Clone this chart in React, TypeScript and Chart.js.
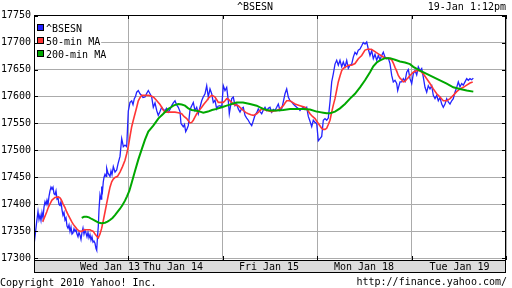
import { useEffect, useRef } from "react";
import { Chart, registerables } from "chart.js";

Chart.register(...registerables);

// ---- text ----
const TITLE = "^BSESN";
const STAMP = "19-Jan 1:12pm";
const COPYRIGHT = "Copyright 2010 Yahoo! Inc.";
const SOURCE_URL = "http://finance.yahoo.com/";
const SERIES_NAMES = ["^BSESN", "50-min MA", "200-min MA"];
const SERIES_COLORS = ["#2222ff", "#ff3535", "#00a800"];

// ---- axes ----
const Y_TICKS = [17300, 17350, 17400, 17450, 17500, 17550, 17600, 17650, 17700, 17750];
const Y_MIN = 17297;
const Y_MAX = 17751;
const BARS_PER_DAY = 94.4; // intraday bars per trading session
const DAY_COUNT = 5;
const DAY_LABELS = ["Wed Jan 13", "Thu Jan 14", "Fri Jan 15", "Mon Jan 18", "Tue Jan 19"];
const DAY_LABEL_BARS = [76, 139, 235, 330, 425.5];

// ---- series: [bar index, value] ----
const BSESN: [number, number][] = [
  [0, 17325], [1, 17340], [2.7, 17368], [4, 17387], [5, 17372], [6, 17380], [7, 17370], [8, 17385], [9, 17375],
  [10, 17395], [11, 17405], [12, 17400], [13, 17408], [14, 17400], [15, 17415], [16, 17425], [17, 17432], [18, 17428],
  [19, 17432], [20, 17420], [21, 17418], [22, 17425], [23, 17410], [24, 17412], [25, 17400], [26, 17398], [27, 17405],
  [28, 17390], [29, 17380], [30, 17385], [31, 17371], [32, 17375], [33, 17360], [34, 17356], [35, 17362], [36, 17350],
  [37, 17358], [38, 17345], [39, 17347], [40, 17355], [41, 17350], [42, 17353], [43, 17345], [44, 17340], [45, 17348],
  [46, 17343], [47, 17335], [48, 17348], [49, 17356], [50, 17345], [51, 17352], [52, 17347], [53, 17340], [54, 17348],
  [55, 17338], [56, 17344], [57, 17334], [58, 17340], [59, 17330], [60, 17332], [61, 17328], [62, 17318], [62.7, 17315],
  [63.5, 17340], [64.3, 17359], [65, 17390], [66, 17418], [67, 17410], [67.7, 17433], [68.5, 17425], [69.3, 17442],
  [70, 17450], [71, 17456], [72, 17452], [72.7, 17467], [74, 17458], [76, 17452], [77, 17462], [78, 17455], [79.3, 17470],
  [81, 17460], [82.7, 17464], [84, 17475], [86, 17489], [87.7, 17522], [88.5, 17515], [89.3, 17507], [91, 17510],
  [92.7, 17507], [93.5, 17540], [94.3, 17573], [96, 17589], [97.7, 17592], [99, 17585], [100.3, 17596], [101.5, 17600],
  [102.7, 17608], [104.3, 17611], [106, 17605], [107.7, 17602], [109, 17598], [111, 17599], [112.5, 17605], [114.3, 17611],
  [116, 17605], [117.7, 17599], [119.3, 17580], [121, 17588], [122.7, 17574], [124.3, 17565], [126, 17572], [127.7, 17580],
  [129, 17576], [131, 17574], [132.5, 17578], [134.3, 17571], [136, 17576], [137.7, 17583], [139.3, 17588], [141, 17592],
  [142.5, 17585], [144.3, 17580], [146, 17572], [147, 17550], [149.3, 17544], [150.5, 17548], [151.7, 17535], [153, 17540],
  [154.3, 17546], [156, 17575], [157, 17580], [159.3, 17589], [161, 17574], [162.7, 17580], [164.3, 17568], [166, 17580],
  [167.7, 17592], [169, 17598], [171, 17605], [172.7, 17620], [174.3, 17599], [176, 17614], [177.7, 17605], [179.3, 17589],
  [181, 17593], [182.7, 17577], [184, 17582], [186, 17583], [187.7, 17580], [189.3, 17620], [191, 17611], [192.7, 17617],
  [194.3, 17592], [195.3, 17568], [197.7, 17596], [199.3, 17599], [201, 17583], [202.7, 17586], [204.3, 17577], [206, 17571],
  [207.7, 17578], [209.3, 17580], [211, 17565], [212.7, 17560], [214.3, 17556], [216, 17550], [217.7, 17546], [219.3, 17555],
  [221, 17565], [222.7, 17570], [224.3, 17577], [226, 17572], [227.7, 17568], [229.3, 17575], [231, 17580], [232.7, 17574],
  [234.3, 17578], [236, 17580], [237.7, 17571], [239.3, 17576], [241, 17574], [242.7, 17580], [244.3, 17586], [246, 17574],
  [247.7, 17577], [249.3, 17590], [251, 17605], [252.7, 17614], [254.3, 17599], [256, 17592], [257.7, 17590], [259.3, 17586],
  [261, 17583], [262.7, 17580], [264.3, 17578], [266, 17574], [267.7, 17578], [269.3, 17580], [271, 17576], [272.7, 17580],
  [274.3, 17563], [276, 17554], [277.7, 17544], [279.3, 17556], [281, 17552], [282.7, 17550], [284.3, 17518], [286, 17522],
  [287.7, 17526], [289.3, 17556], [291, 17559], [292.7, 17556], [294.3, 17560], [296, 17590], [297.7, 17627], [299.3, 17642],
  [301, 17660], [302.7, 17667], [304.3, 17658], [306, 17667], [307.7, 17655], [309.3, 17664], [311, 17655], [312.7, 17667],
  [314.3, 17652], [316, 17658], [317.7, 17660], [319.3, 17673], [321, 17682], [322.7, 17678], [324.3, 17686], [326, 17688],
  [327.7, 17694], [329.3, 17700], [331, 17697], [332.7, 17701], [334.3, 17688], [336, 17676], [337.7, 17685], [339.3, 17670],
  [341, 17678], [342.7, 17667], [344.3, 17676], [346, 17668], [347.7, 17676], [349.3, 17682], [351, 17673], [352.7, 17670],
  [354.3, 17671], [356, 17661], [357.7, 17639], [359.3, 17627], [361, 17630], [362.7, 17624], [363.7, 17611], [366, 17627],
  [367.7, 17627], [369.3, 17633], [371, 17628], [372.7, 17645], [374.3, 17650], [376, 17633], [377.7, 17624], [379.3, 17642],
  [381, 17648], [382.7, 17640], [384.3, 17655], [386, 17648], [387.7, 17652], [389.3, 17636], [391, 17617], [392.7, 17608],
  [394.3, 17620], [396, 17614], [397.7, 17620], [399.3, 17602], [401, 17596], [402.7, 17602], [404.3, 17592], [406, 17598],
  [407.7, 17586], [409.3, 17580], [411, 17586], [412.7, 17596], [414.3, 17590], [416, 17586], [417.7, 17592], [419.3, 17596],
  [421, 17608], [422.7, 17617], [424.3, 17627], [426, 17618], [427.7, 17624], [429.3, 17621], [431, 17627], [432.7, 17633],
  [434.3, 17630], [436, 17633], [437.7, 17631], [439.3, 17634],
];

const MA50: [number, number][] = [
  [8.7, 17368], [10.5, 17376], [12.7, 17386], [14, 17393], [16, 17401], [18, 17408], [21, 17413], [24.3, 17414], [26, 17412],
  [27.7, 17407], [29, 17401], [31, 17394], [32.5, 17387], [34.3, 17380], [36, 17374], [37.7, 17368], [39.3, 17363], [41, 17359],
  [42.7, 17355], [44.3, 17352], [46, 17350], [47.7, 17350], [49.3, 17352], [51, 17353], [53.5, 17353], [56, 17353], [58, 17351],
  [59.3, 17350], [61, 17345], [62.7, 17341], [64.3, 17338], [66, 17345], [67.7, 17356], [69.3, 17370], [71, 17386], [72.7, 17402],
  [74.3, 17417], [76, 17432], [77.7, 17442], [79.3, 17447], [81, 17450], [83.5, 17452], [86, 17460], [88.5, 17470], [91, 17482],
  [92.7, 17494], [94.3, 17507], [96, 17526], [97.7, 17544], [99.3, 17556], [101, 17568], [102.7, 17580], [104.3, 17592], [106, 17598],
  [107.7, 17602], [111, 17602], [114.3, 17602], [117, 17601], [119.3, 17599], [122, 17594], [124.3, 17589], [126, 17585],
  [127.7, 17580], [129.3, 17575], [131, 17571], [134.3, 17571], [137.7, 17571], [141, 17571], [144.3, 17570], [147.7, 17568],
  [150, 17563], [152.7, 17559], [154.3, 17555], [156, 17551], [157.7, 17552], [159.3, 17556], [161, 17562], [162.7, 17568],
  [165, 17574], [167.7, 17580], [170, 17586], [172.7, 17592], [175, 17598], [177.7, 17602], [179.3, 17601], [181, 17599],
  [182.7, 17594], [184.3, 17589], [187, 17589], [189.3, 17589], [191, 17592], [192.7, 17596], [194.3, 17595], [196, 17592],
  [197.7, 17589], [199.3, 17586], [202, 17584], [204.3, 17583], [207, 17578], [209.3, 17574], [212, 17570], [214.3, 17568],
  [217, 17566], [219.3, 17565], [222.7, 17568], [225, 17572], [227.7, 17577], [230, 17576], [232.7, 17574], [235, 17573],
  [237.7, 17572], [240, 17573], [242.7, 17574], [246, 17577], [249.3, 17583], [251, 17588], [252.7, 17592], [256, 17592],
  [258.5, 17589], [261, 17586], [266, 17583], [271, 17580], [273.5, 17575], [276, 17568], [278.5, 17563], [281, 17559],
  [284.3, 17550], [287.7, 17541], [289.3, 17539], [291, 17539], [292.7, 17541], [294.3, 17548], [296, 17556], [297.7, 17571],
  [299.3, 17584], [301, 17596], [302.7, 17612], [304.3, 17627], [306, 17638], [307.7, 17648], [309.3, 17652], [311, 17654],
  [314.3, 17658], [317.7, 17658], [321, 17661], [324.3, 17670], [327.7, 17676], [331, 17686], [334.3, 17688], [337.7, 17687],
  [341, 17683], [344.3, 17679], [347.7, 17675], [351, 17671], [354.3, 17671], [357.7, 17668], [359.3, 17662], [361, 17654],
  [362.7, 17647], [364.3, 17639], [366, 17634], [367.7, 17631], [369.3, 17627], [371, 17628], [372.7, 17632], [374.3, 17635],
  [376, 17639], [379.3, 17645], [382.7, 17648], [386, 17648], [389.3, 17642], [392.7, 17633], [396, 17624], [399.3, 17614],
  [402.7, 17605], [406, 17599], [409.3, 17592], [412.7, 17592], [416, 17596], [419.3, 17602], [422.7, 17609], [426, 17614],
  [429.3, 17617], [432.7, 17621], [436, 17625], [438.7, 17627],
];

const MA200: [number, number][] = [
  [47.7, 17375], [50, 17377], [52.7, 17377], [55, 17376], [57.7, 17373], [60, 17371], [62.7, 17368], [65, 17366], [67.7, 17365],
  [71, 17366], [73.5, 17368], [76, 17371], [78.5, 17375], [81, 17380], [83.5, 17386], [86, 17392], [88.5, 17399], [91, 17407],
  [93, 17415], [95.3, 17425], [97.7, 17440], [101, 17462], [104.3, 17483], [107.7, 17502], [111, 17520], [114.3, 17535],
  [117, 17541], [119.3, 17546], [122, 17553], [124.3, 17559], [127, 17564], [129.3, 17568], [132, 17573], [134.3, 17577],
  [137, 17580], [139.3, 17583], [142, 17585], [144.3, 17586], [147.7, 17585], [151, 17583], [154.3, 17578], [157.7, 17575],
  [161, 17574], [166, 17572], [169.3, 17570], [174, 17572], [178, 17575], [182.7, 17577], [186, 17579], [189.3, 17581],
  [192.7, 17583], [196, 17585], [199.3, 17587], [202.7, 17589], [209, 17589], [216, 17586], [222.7, 17583], [226, 17580],
  [229.3, 17577], [232.7, 17575], [236, 17574], [242.7, 17574], [249.3, 17575], [256, 17577], [262.7, 17577], [269.3, 17577],
  [276, 17576], [282.7, 17572], [286, 17571], [289.3, 17570], [292.7, 17569], [296, 17569], [301, 17572], [306, 17578],
  [311, 17586], [316, 17596], [321, 17605], [326, 17617], [331, 17630], [336, 17645], [339.3, 17656], [342.7, 17663],
  [346, 17667], [351, 17671], [356, 17671], [361, 17668], [366, 17665], [371, 17663], [376, 17660], [379.3, 17655],
  [386, 17648], [392.7, 17642], [399.3, 17636], [406, 17630], [412.7, 17624], [419.3, 17617], [426, 17614], [432.7, 17611],
  [439.3, 17609],
];

const FONT = "'DejaVu Sans Mono', monospace";
const GRID = "#ababab";

const toXY = (s: [number, number][]) => s.map(([x, y]) => ({ x, y }));

const decor = {
  id: "decor",
  beforeDraw(chart: any) {
    const { ctx, chartArea: a } = chart;
    ctx.save();
    ctx.fillStyle = "#ffffff";
    ctx.fillRect(0, 0, chart.width, chart.height);
    ctx.fillStyle = "#dcdcdc";
    ctx.fillRect(a.left, a.bottom, a.right - a.left, 13);
    ctx.strokeStyle = "#000";
    ctx.lineWidth = 1;
    ctx.strokeRect(a.left + 0.5, a.bottom + 0.5, a.right - a.left - 1, 12);
    ctx.restore();
  },
  afterDraw(chart: any) {
    const { ctx, chartArea: a, scales } = chart;
    ctx.save();
    ctx.font = `10px ${FONT}`;
    // legend
    chart.data.datasets.forEach((ds: any, i: number) => {
      const base = a.top + 17 + i * 13;
      const w = ctx.measureText(ds.label).width;
      ctx.fillStyle = "#fff";
      ctx.fillRect(a.left + 1, base - 9, 12 + w, 12);
      ctx.fillStyle = ds.borderColor;
      ctx.fillRect(a.left + 3.5, base - 7.5, 6, 6);
      ctx.strokeStyle = "#000";
      ctx.lineWidth = 1;
      ctx.strokeRect(a.left + 3.5, base - 7.5, 6, 6);
      ctx.fillStyle = "#000";
      ctx.textAlign = "left";
      ctx.textBaseline = "alphabetic";
      ctx.fillText(ds.label, a.left + 12, base);
    });
    // frame
    ctx.strokeStyle = "#000";
    ctx.lineWidth = 1;
    ctx.strokeRect(a.left + 0.5, a.top + 0.5, a.right - a.left - 1, a.bottom - a.top);
    // inward tick marks
    ctx.beginPath();
    scales.y.ticks.forEach((t: any) => {
      const py = Math.round(scales.y.getPixelForValue(t.value)) + 0.5;
      ctx.moveTo(a.left, py); ctx.lineTo(a.left + 4, py);
      ctx.moveTo(a.right - 4, py); ctx.lineTo(a.right, py);
    });
    scales.x.ticks.forEach((t: any) => {
      const px = Math.round(scales.x.getPixelForValue(t.value)) + 0.5;
      ctx.moveTo(px, a.top); ctx.lineTo(px, a.top + 4);
      ctx.moveTo(px, a.bottom - 4); ctx.lineTo(px, a.bottom);
    });
    ctx.stroke();
    // header / footer text
    ctx.fillStyle = "#000";
    ctx.textBaseline = "alphabetic";
    ctx.textAlign = "center";
    ctx.fillText(TITLE, 255, 10);
    ctx.textAlign = "right";
    ctx.fillText(STAMP, 506, 10);
    ctx.textAlign = "left";
    ctx.fillText(COPYRIGHT, 0, 286);
    ctx.textAlign = "right";
    ctx.fillText(SOURCE_URL, 507, 285);
    ctx.restore();
  },
};

export default function App() {
  const ref = useRef<HTMLCanvasElement>(null);
  useEffect(() => {
    const maxBar = BARS_PER_DAY * DAY_COUNT;
    const chart = new Chart(ref.current as HTMLCanvasElement, {
      type: "line",
      data: {
        datasets: [
          { label: SERIES_NAMES[0], data: toXY(BSESN), borderColor: SERIES_COLORS[0], backgroundColor: SERIES_COLORS[0], borderWidth: 1.3, pointRadius: 0, order: 3 },
          { label: SERIES_NAMES[1], data: toXY(MA50), borderColor: SERIES_COLORS[1], backgroundColor: SERIES_COLORS[1], borderWidth: 1.6, pointRadius: 0, order: 2 },
          { label: SERIES_NAMES[2], data: toXY(MA200), borderColor: SERIES_COLORS[2], backgroundColor: SERIES_COLORS[2], borderWidth: 2, pointRadius: 0, order: 1 },
        ],
      },
      plugins: [decor],
      options: {
        responsive: false,
        devicePixelRatio: 1,
        animation: false,
        events: [],
        layout: { padding: { top: 15, right: 6, bottom: 14, left: 0 } },
        plugins: { legend: { display: false }, tooltip: { enabled: false }, title: { display: false } },
        scales: {
          x: {
            type: "linear",
            position: "bottom",
            min: 0,
            max: maxBar,
            afterBuildTicks: (s: any) => {
              s.ticks = Array.from({ length: DAY_COUNT + 1 }, (_, i) => ({ value: i * BARS_PER_DAY }));
            },
            afterFit: (s: any) => { s.height = 0; },
            ticks: { display: false },
            grid: { color: GRID, drawTicks: false, lineWidth: 1 },
            border: { display: false },
          },
          xDays: {
            axis: "x",
            type: "linear",
            position: "bottom",
            min: 0,
            max: maxBar,
            afterBuildTicks: (s: any) => {
              s.ticks = DAY_LABEL_BARS.map((v) => ({ value: v }));
            },
            afterFit: (s: any) => { s.height = 14; },
            ticks: {
              callback: (_v: any, i: number) => DAY_LABELS[i],
              font: { family: FONT, size: 10 },
              color: "#000",
              padding: 1,
              maxRotation: 0,
              autoSkip: false,
            },
            grid: { display: false, drawTicks: false },
            border: { display: false },
          },
          y: {
            type: "linear",
            position: "left",
            min: Y_MIN,
            max: Y_MAX,
            afterBuildTicks: (s: any) => {
              s.ticks = Y_TICKS.map((v) => ({ value: v }));
            },
            afterFit: (s: any) => { s.width = 34; },
            ticks: {
              callback: (v: any) => String(v),
              font: { family: FONT, size: 10 },
              color: "#000",
              padding: 3,
              autoSkip: false,
            },
            grid: { color: GRID, drawTicks: false, lineWidth: 1 },
            border: { display: false },
          },
        },
      },
    } as any);
    return () => chart.destroy();
  }, []);
  return (
    <div style={{ position: "absolute", left: 0, top: 0, width: 512, height: 288, background: "#fff" }}>
      <canvas ref={ref} width={512} height={288} style={{ display: "block" }} />
    </div>
  );
}
